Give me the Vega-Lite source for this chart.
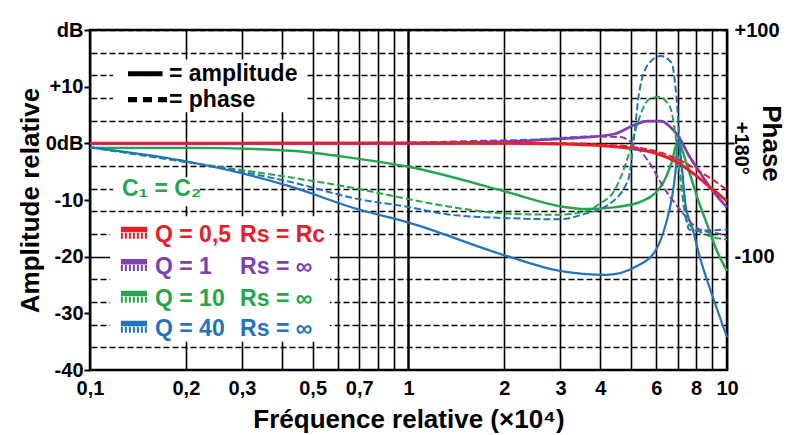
{
  "$schema": "https://vega.github.io/schema/vega-lite/v6.json",
  "width": 637,
  "height": 340,
  "autosize": "none",
  "padding": {"left": 90, "top": 30, "right": 64, "bottom": 65},
  "background": "white",
  "config": {
    "font": "Liberation Sans",
    "view": {"stroke": "black", "strokeWidth": 2.5},
    "axis": {"labelFont": "Liberation Sans", "titleFont": "Liberation Sans", "labelColor": "black", "titleColor": "black", "labelFontWeight": "bold", "titleFontWeight": "bold", "labelFontSize": 20, "titleFontSize": 26, "labelOverlap": false, "labelFlush": false, "domain": false, "tickColor": "black", "tickWidth": 2}
  },
  "datasets": {
    "amp": [
      {"s": "Q1", "f": 0.1, "v": 0}, {"s": "Q1", "f": 1, "v": 0.05}, {"s": "Q1", "f": 2, "v": 0.3}, {"s": "Q1", "f": 2.6, "v": 0.6}, {"s": "Q1", "f": 3.45, "v": 1.0}, {"s": "Q1", "f": 4.4, "v": 1.6}, {"s": "Q1", "f": 5.2, "v": 3.4}, {"s": "Q1", "f": 5.6, "v": 3.9}, {"s": "Q1", "f": 6.2, "v": 3.9}, {"s": "Q1", "f": 6.6, "v": 3.0}, {"s": "Q1", "f": 7.1, "v": 0.9}, {"s": "Q1", "f": 7.6, "v": -2.2}, {"s": "Q1", "f": 8.2, "v": -5.0}, {"s": "Q1", "f": 8.85, "v": -7.8}, {"s": "Q1", "f": 10, "v": -11.3},
      {"s": "Q10", "f": 0.1, "v": -0.8}, {"s": "Q10", "f": 0.206, "v": -0.8}, {"s": "Q10", "f": 0.425, "v": -1.3}, {"s": "Q10", "f": 0.69, "v": -2.7}, {"s": "Q10", "f": 0.99, "v": -4.1}, {"s": "Q10", "f": 2.04, "v": -8.6}, {"s": "Q10", "f": 2.98, "v": -11.1}, {"s": "Q10", "f": 3.6, "v": -11.6}, {"s": "Q10", "f": 4.4, "v": -11.3}, {"s": "Q10", "f": 5.3, "v": -10.4}, {"s": "Q10", "f": 6.2, "v": -7.6}, {"s": "Q10", "f": 6.7, "v": -3.4}, {"s": "Q10", "f": 7.0, "v": 0.3}, {"s": "Q10", "f": 7.5, "v": -4.0}, {"s": "Q10", "f": 8.1, "v": -9.9}, {"s": "Q10", "f": 8.7, "v": -14.6}, {"s": "Q10", "f": 9.3, "v": -19}, {"s": "Q10", "f": 10, "v": -22.5},
      {"s": "Q40", "f": 0.1, "v": -0.7}, {"s": "Q40", "f": 0.206, "v": -3.3}, {"s": "Q40", "f": 0.425, "v": -7.6}, {"s": "Q40", "f": 0.69, "v": -11.6}, {"s": "Q40", "f": 0.99, "v": -13.9}, {"s": "Q40", "f": 2.04, "v": -19.9}, {"s": "Q40", "f": 2.98, "v": -22.5}, {"s": "Q40", "f": 4.2, "v": -23.2}, {"s": "Q40", "f": 5.2, "v": -21.7}, {"s": "Q40", "f": 6.0, "v": -18.7}, {"s": "Q40", "f": 6.4, "v": -14.6}, {"s": "Q40", "f": 6.7, "v": -9.9}, {"s": "Q40", "f": 6.9, "v": -4.6}, {"s": "Q40", "f": 7.0, "v": 0.4}, {"s": "Q40", "f": 7.2, "v": -3.7}, {"s": "Q40", "f": 7.4, "v": -10.7}, {"s": "Q40", "f": 7.8, "v": -15.1}, {"s": "Q40", "f": 8.2, "v": -19.9}, {"s": "Q40", "f": 9.0, "v": -26.9}, {"s": "Q40", "f": 10, "v": -34.2},
      {"s": "Q05", "f": 0.1, "v": 0}, {"s": "Q05", "f": 0.3, "v": 0}, {"s": "Q05", "f": 1, "v": 0}, {"s": "Q05", "f": 2, "v": 0}, {"s": "Q05", "f": 3, "v": -0.1}, {"s": "Q05", "f": 4, "v": -0.4}, {"s": "Q05", "f": 5, "v": -0.9}, {"s": "Q05", "f": 6, "v": -1.8}, {"s": "Q05", "f": 7, "v": -3.4}, {"s": "Q05", "f": 8, "v": -5.7}, {"s": "Q05", "f": 9, "v": -8.1}, {"s": "Q05", "f": 10, "v": -10.2}
    ],
    "ph": [
      {"s": "Q1", "f": 0.1, "v": 0}, {"s": "Q1", "f": 0.9, "v": 0.5}, {"s": "Q1", "f": 1.57, "v": 2}, {"s": "Q1", "f": 2.59, "v": 3.5}, {"s": "Q1", "f": 3.7, "v": 6}, {"s": "Q1", "f": 4.6, "v": 5.5}, {"s": "Q1", "f": 5.2, "v": -3}, {"s": "Q1", "f": 5.7, "v": -17}, {"s": "Q1", "f": 6.3, "v": -38}, {"s": "Q1", "f": 7.1, "v": -58}, {"s": "Q1", "f": 8.2, "v": -76}, {"s": "Q1", "f": 9.5, "v": -80}, {"s": "Q1", "f": 10, "v": -82},
      {"s": "Q10", "f": 0.1, "v": -3.5}, {"s": "Q10", "f": 0.206, "v": -17}, {"s": "Q10", "f": 0.425, "v": -30}, {"s": "Q10", "f": 0.69, "v": -40}, {"s": "Q10", "f": 0.99, "v": -49}, {"s": "Q10", "f": 1.35, "v": -56}, {"s": "Q10", "f": 2.04, "v": -62}, {"s": "Q10", "f": 2.98, "v": -63}, {"s": "Q10", "f": 3.6, "v": -60}, {"s": "Q10", "f": 4.0, "v": -53}, {"s": "Q10", "f": 4.4, "v": -43}, {"s": "Q10", "f": 4.9, "v": -11}, {"s": "Q10", "f": 5.2, "v": 15}, {"s": "Q10", "f": 5.7, "v": 39}, {"s": "Q10", "f": 6.1, "v": 41}, {"s": "Q10", "f": 6.6, "v": 33}, {"s": "Q10", "f": 6.9, "v": 6}, {"s": "Q10", "f": 7.1, "v": -26}, {"s": "Q10", "f": 7.5, "v": -70}, {"s": "Q10", "f": 8.2, "v": -78}, {"s": "Q10", "f": 10, "v": -85},
      {"s": "Q40", "f": 0.1, "v": -3.5}, {"s": "Q40", "f": 0.206, "v": -17}, {"s": "Q40", "f": 0.425, "v": -34}, {"s": "Q40", "f": 0.69, "v": -49}, {"s": "Q40", "f": 0.99, "v": -56}, {"s": "Q40", "f": 1.35, "v": -63}, {"s": "Q40", "f": 2.04, "v": -66}, {"s": "Q40", "f": 2.98, "v": -67}, {"s": "Q40", "f": 3.6, "v": -62}, {"s": "Q40", "f": 4.2, "v": -55}, {"s": "Q40", "f": 4.9, "v": -32}, {"s": "Q40", "f": 5.1, "v": 3.5}, {"s": "Q40", "f": 5.3, "v": 45}, {"s": "Q40", "f": 5.7, "v": 71}, {"s": "Q40", "f": 6.2, "v": 77}, {"s": "Q40", "f": 6.7, "v": 71}, {"s": "Q40", "f": 6.9, "v": 48}, {"s": "Q40", "f": 7.1, "v": 3.5}, {"s": "Q40", "f": 7.3, "v": -40}, {"s": "Q40", "f": 7.6, "v": -76}, {"s": "Q40", "f": 8.2, "v": -77}, {"s": "Q40", "f": 10, "v": -76},
      {"s": "Q05", "f": 0.1, "v": 0}, {"s": "Q05", "f": 1, "v": 0}, {"s": "Q05", "f": 3, "v": 0}, {"s": "Q05", "f": 4, "v": -1}, {"s": "Q05", "f": 5, "v": -3}, {"s": "Q05", "f": 6, "v": -7}, {"s": "Q05", "f": 7, "v": -14}, {"s": "Q05", "f": 8, "v": -23}, {"s": "Q05", "f": 9, "v": -32}, {"s": "Q05", "f": 10, "v": -41}
    ],
    "notes": [
      {"s": "K", "f": 0.177, "v": 12.3, "t": "= amplitude"},
      {"s": "K", "f": 0.177, "v": 7.7, "t": "= phase"},
      {"s": "Q10", "f": 0.126, "v": -8.1, "t": "C₁ = C₂"},
      {"s": "Q05", "f": 0.16, "v": -16.2, "t": "Q = 0,5"},
      {"s": "Q05", "f": 0.296, "v": -16.2, "t": "Rs = Rc"},
      {"s": "Q1", "f": 0.16, "v": -21.8, "t": "Q = 1"},
      {"s": "Q1", "f": 0.296, "v": -21.8, "t": "Rs = ∞"},
      {"s": "Q10", "f": 0.16, "v": -27.5, "t": "Q = 10"},
      {"s": "Q10", "f": 0.296, "v": -27.5, "t": "Rs = ∞"},
      {"s": "Q40", "f": 0.16, "v": -32.7, "t": "Q = 40"},
      {"s": "Q40", "f": 0.296, "v": -32.7, "t": "Rs = ∞"}
    ],
    "syms": [
      {"s": "K", "f": 0.1316, "f2": 0.169, "v": 12.3, "k": "amp"},
      {"s": "K", "f": 0.1316, "f2": 0.1745, "v": 7.7, "k": "ph"},
      {"s": "Q05", "f": 0.125, "f2": 0.151, "v": -15.2, "k": "solid"},
      {"s": "Q05", "f": 0.125, "f2": 0.151, "v": -16.3, "k": "dot"},
      {"s": "Q1", "f": 0.125, "f2": 0.151, "v": -20.9, "k": "solid"},
      {"s": "Q1", "f": 0.125, "f2": 0.151, "v": -22.0, "k": "dot"},
      {"s": "Q10", "f": 0.125, "f2": 0.151, "v": -26.5, "k": "solid"},
      {"s": "Q10", "f": 0.125, "f2": 0.151, "v": -27.6, "k": "dot"},
      {"s": "Q40", "f": 0.125, "f2": 0.151, "v": -31.8, "k": "solid"},
      {"s": "Q40", "f": 0.125, "f2": 0.151, "v": -32.9, "k": "dot"}
    ],
    "boxes": [
      {"f": 0.118, "f2": 0.473, "v": 14.8, "v2": 5.5},
      {"f": 0.118, "f2": 0.221, "v": -6.0, "v2": -11.1},
      {"f": 0.1156, "f2": 0.567, "v": -12.85, "v2": -35.0}
    ]
  },
  "layer": [
    {
      "layer": [
        {
          "data": {"name": "boxes"},
          "mark": {"type": "rect", "fill": "white", "stroke": null},
          "encoding": {
            "x": {"field": "f", "type": "quantitative", "scale": {"type": "log", "domain": [0.1, 10], "nice": false}, "axis": {"values": [0.1,0.2,0.3,0.4,0.5,0.6,0.7,0.8,0.9,1,2,3,4,5,6,7,8,9,10], "labelExpr": "indexof([0.1,0.2,0.3,0.5,0.7,1,2,3,4,6,8,10], datum.value) >= 0 ? replace('' + datum.value, '.', ',') : ''", "grid": true, "gridColor": "black", "gridOpacity": 1, "gridWidth": {"condition": {"test": "datum.value == 1", "value": 2.5}, "value": 1.6}, "ticks": false, "labelPadding": 8, "title": "Fréquence relative (×10⁴)", "titleY": 57, "titleBaseline": "alphabetic"}},
            "x2": {"field": "f2"},
            "y": {"field": "v", "type": "quantitative", "scale": {"domain": [-40, 20], "nice": false, "zero": false}, "axis": {"orient": "left", "values": [-40,-30,-20,-10,0,10,20], "labelExpr": "datum.value == 20 ? 'dB' : datum.value == 0 ? '0dB' : datum.value > 0 ? '+' + datum.value : '' + datum.value", "grid": false, "tickSize": 6, "labelPadding": 1, "title": "Amplitude relative", "titleX": -60, "titleY": 170, "titleAlign": "center", "titleBaseline": "middle", "titleAngle": -90}},
            "y2": {"field": "v2"}
          }
        },
        {
          "data": {"name": "amp"},
          "mark": {"type": "line", "interpolate": "monotone"},
          "encoding": {
            "x": {"field": "f", "type": "quantitative", "scale": {"type": "log", "domain": [0.1, 10], "nice": false}, "axis": {"values": [0.1,0.2,0.3,0.4,0.5,0.6,0.7,0.8,0.9,1,2,3,4,5,6,7,8,9,10], "labelExpr": "indexof([0.1,0.2,0.3,0.5,0.7,1,2,3,4,6,8,10], datum.value) >= 0 ? replace('' + datum.value, '.', ',') : ''", "grid": true, "gridColor": "black", "gridOpacity": 1, "gridWidth": {"condition": {"test": "datum.value == 1", "value": 2.5}, "value": 1.6}, "ticks": false, "labelPadding": 8, "title": "Fréquence relative (×10⁴)", "titleY": 57, "titleBaseline": "alphabetic"}},
            "y": {"field": "v", "type": "quantitative", "scale": {"domain": [-40, 20], "nice": false, "zero": false}, "axis": {"orient": "left", "values": [-40,-30,-20,-10,0,10,20], "labelExpr": "datum.value == 20 ? 'dB' : datum.value == 0 ? '0dB' : datum.value > 0 ? '+' + datum.value : '' + datum.value", "grid": false, "tickSize": 6, "labelPadding": 1, "title": "Amplitude relative", "titleX": -60, "titleY": 170, "titleAlign": "center", "titleBaseline": "middle", "titleAngle": -90}},
            "color": {"field": "s", "type": "nominal", "scale": {"domain": ["Q05", "Q1", "Q10", "Q40", "K"], "range": ["#e5202a", "#7f3fae", "#25a54c", "#2473bd", "#000000"]}, "legend": null},
            "strokeWidth": {"field": "s", "type": "nominal", "scale": {"domain": ["Q05", "Q1", "Q10", "Q40"], "range": [3, 2.2, 2.2, 2.2]}, "legend": null}
          }
        },
        {
          "data": {"name": "syms"},
          "mark": {"type": "rule"},
          "encoding": {
            "x": {"field": "f", "type": "quantitative", "scale": {"type": "log", "domain": [0.1, 10], "nice": false}, "axis": {"values": [0.1,0.2,0.3,0.4,0.5,0.6,0.7,0.8,0.9,1,2,3,4,5,6,7,8,9,10], "labelExpr": "indexof([0.1,0.2,0.3,0.5,0.7,1,2,3,4,6,8,10], datum.value) >= 0 ? replace('' + datum.value, '.', ',') : ''", "grid": true, "gridColor": "black", "gridOpacity": 1, "gridWidth": {"condition": {"test": "datum.value == 1", "value": 2.5}, "value": 1.6}, "ticks": false, "labelPadding": 8, "title": "Fréquence relative (×10⁴)", "titleY": 57, "titleBaseline": "alphabetic"}},
            "x2": {"field": "f2"},
            "y": {"field": "v", "type": "quantitative", "scale": {"domain": [-40, 20], "nice": false, "zero": false}, "axis": {"orient": "left", "values": [-40,-30,-20,-10,0,10,20], "labelExpr": "datum.value == 20 ? 'dB' : datum.value == 0 ? '0dB' : datum.value > 0 ? '+' + datum.value : '' + datum.value", "grid": false, "tickSize": 6, "labelPadding": 1, "title": "Amplitude relative", "titleX": -60, "titleY": 170, "titleAlign": "center", "titleBaseline": "middle", "titleAngle": -90}},
            "color": {"field": "s", "type": "nominal", "scale": {"domain": ["Q05", "Q1", "Q10", "Q40", "K"], "range": ["#e5202a", "#7f3fae", "#25a54c", "#2473bd", "#000000"]}, "legend": null},
            "size": {"field": "k", "type": "nominal", "scale": {"domain": ["amp", "ph", "solid", "dot"], "range": [5, 6, 2.5, 2.5]}, "legend": null},
            "strokeDash": {"field": "k", "type": "nominal", "scale": {"domain": ["amp", "ph", "solid", "dot"], "range": [[1, 0], [9, 6], [1, 0], [2, 2]]}, "legend": null}
          }
        },
        {
          "data": {"name": "notes"},
          "mark": {"type": "text", "align": "left", "baseline": "middle", "fontSize": 23, "fontWeight": "bold", "font": "Liberation Sans"},
          "encoding": {
            "x": {"field": "f", "type": "quantitative", "scale": {"type": "log", "domain": [0.1, 10], "nice": false}, "axis": {"values": [0.1,0.2,0.3,0.4,0.5,0.6,0.7,0.8,0.9,1,2,3,4,5,6,7,8,9,10], "labelExpr": "indexof([0.1,0.2,0.3,0.5,0.7,1,2,3,4,6,8,10], datum.value) >= 0 ? replace('' + datum.value, '.', ',') : ''", "grid": true, "gridColor": "black", "gridOpacity": 1, "gridWidth": {"condition": {"test": "datum.value == 1", "value": 2.5}, "value": 1.6}, "ticks": false, "labelPadding": 8, "title": "Fréquence relative (×10⁴)", "titleY": 57, "titleBaseline": "alphabetic"}},
            "y": {"field": "v", "type": "quantitative", "scale": {"domain": [-40, 20], "nice": false, "zero": false}, "axis": {"orient": "left", "values": [-40,-30,-20,-10,0,10,20], "labelExpr": "datum.value == 20 ? 'dB' : datum.value == 0 ? '0dB' : datum.value > 0 ? '+' + datum.value : '' + datum.value", "grid": false, "tickSize": 6, "labelPadding": 1, "title": "Amplitude relative", "titleX": -60, "titleY": 170, "titleAlign": "center", "titleBaseline": "middle", "titleAngle": -90}},
            "color": {"field": "s", "type": "nominal", "scale": {"domain": ["Q05", "Q1", "Q10", "Q40", "K"], "range": ["#e5202a", "#7f3fae", "#25a54c", "#2473bd", "#000000"]}, "legend": null},
            "text": {"field": "t"}
          }
        }
      ]
    },
    {
      "layer": [
        {
          "data": {"name": "ph"},
          "mark": {"type": "line", "interpolate": "monotone", "strokeWidth": 2, "strokeDash": [7, 3]},
          "encoding": {
            "x": {"field": "f", "type": "quantitative", "scale": {"type": "log", "domain": [0.1, 10], "nice": false}, "axis": {"values": [0.1,0.2,0.3,0.4,0.5,0.6,0.7,0.8,0.9,1,2,3,4,5,6,7,8,9,10], "labelExpr": "indexof([0.1,0.2,0.3,0.5,0.7,1,2,3,4,6,8,10], datum.value) >= 0 ? replace('' + datum.value, '.', ',') : ''", "grid": true, "gridColor": "black", "gridOpacity": 1, "gridWidth": {"condition": {"test": "datum.value == 1", "value": 2.5}, "value": 1.6}, "ticks": false, "labelPadding": 8, "title": "Fréquence relative (×10⁴)", "titleY": 57, "titleBaseline": "alphabetic"}},
            "y": {"field": "v", "type": "quantitative", "scale": {"domain": [-200, 100], "nice": false, "zero": false}, "axis": {"orient": "right", "values": [-180,-160,-140,-120,-100,-80,-60,-40,-20,0,20,40,60,80,100], "grid": true, "gridColor": "black", "gridOpacity": 1, "gridWidth": 1.5, "gridDash": {"condition": {"test": "datum.value == 0 || datum.value == -100", "value": [1, 0]}, "value": [6, 3]}, "labelExpr": "datum.value == 100 ? '+100' : datum.value == -100 ? '-100' : ''", "tickSize": 7, "tickOpacity": {"condition": {"test": "datum.value == 0", "value": 1}, "value": 0}, "labelPadding": 0, "title": "Phase", "titleAngle": 90, "titleX": 43, "titleY": 113, "titleAlign": "center", "titleBaseline": "middle"}},
            "color": {"field": "s", "type": "nominal", "scale": {"domain": ["Q05", "Q1", "Q10", "Q40", "K"], "range": ["#e5202a", "#7f3fae", "#25a54c", "#2473bd", "#000000"]}, "legend": null}
          }
        },
        {
          "data": {"values": [{"f": 10, "v": 0, "t": "+180°"}]},
          "mark": {"type": "text", "angle": 90, "align": "center", "baseline": "middle", "dx": 5, "dy": -14, "fontSize": 20, "fontWeight": "bold", "font": "Liberation Sans", "color": "black"},
          "encoding": {
            "x": {"field": "f", "type": "quantitative", "scale": {"type": "log", "domain": [0.1, 10], "nice": false}, "axis": {"values": [0.1,0.2,0.3,0.4,0.5,0.6,0.7,0.8,0.9,1,2,3,4,5,6,7,8,9,10], "labelExpr": "indexof([0.1,0.2,0.3,0.5,0.7,1,2,3,4,6,8,10], datum.value) >= 0 ? replace('' + datum.value, '.', ',') : ''", "grid": true, "gridColor": "black", "gridOpacity": 1, "gridWidth": {"condition": {"test": "datum.value == 1", "value": 2.5}, "value": 1.6}, "ticks": false, "labelPadding": 8, "title": "Fréquence relative (×10⁴)", "titleY": 57, "titleBaseline": "alphabetic"}},
            "y": {"field": "v", "type": "quantitative", "scale": {"domain": [-200, 100], "nice": false, "zero": false}, "axis": {"orient": "right", "values": [-180,-160,-140,-120,-100,-80,-60,-40,-20,0,20,40,60,80,100], "grid": true, "gridColor": "black", "gridOpacity": 1, "gridWidth": 1.5, "gridDash": {"condition": {"test": "datum.value == 0 || datum.value == -100", "value": [1, 0]}, "value": [6, 3]}, "labelExpr": "datum.value == 100 ? '+100' : datum.value == -100 ? '-100' : ''", "tickSize": 7, "tickOpacity": {"condition": {"test": "datum.value == 0", "value": 1}, "value": 0}, "labelPadding": 0, "title": "Phase", "titleAngle": 90, "titleX": 43, "titleY": 113, "titleAlign": "center", "titleBaseline": "middle"}},
            "text": {"field": "t"}
          }
        }
      ]
    }
  ],
  "resolve": {"scale": {"y": "independent"}}
}
